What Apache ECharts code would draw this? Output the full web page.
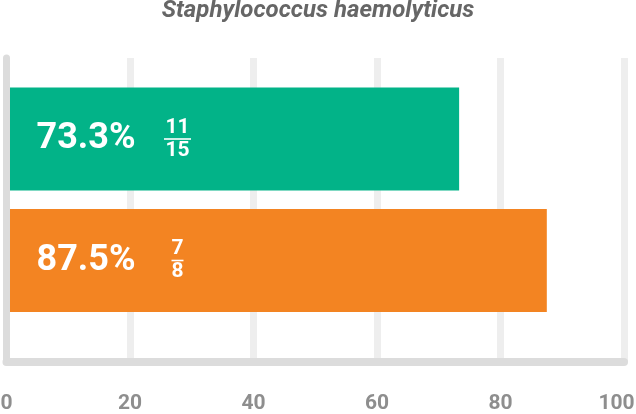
<!DOCTYPE html>
<html>
<head>
<meta charset="utf-8">
<script src="https://cdn.jsdelivr.net/npm/echarts@6/dist/echarts.min.js"></script>
<style>
  html, body { margin: 0; padding: 0; background: #fff; }
  #chart { width: 636px; height: 414px; }
</style>
</head>
<body>
<div id="chart"></div>
<script>
// data
const title = 'Staphylococcus haemolyticus';
const categories = ['a', 'b'];
const percents = [73.3, 87.5];
const numerators = [11, 7];
const denominators = [15, 8];
const barColors = ['#02b388', '#f38422'];
const xTicks = [0, 20, 40, 60, 80, 100];

const chart = echarts.init(document.getElementById('chart'));
const FONT = 'Roboto';

const option = {
  animation: false,
  title: {
    text: title,
    left: 'center',
    top: -1,
    padding: 0,
    textStyle: { fontFamily: FONT, fontSize: 24, fontWeight: 'bold', fontStyle: 'italic', color: '#666666' }
  },
  grid: [
    // frame grid: split lines, axes, tick labels
    { left: 6.5, right: 12, top: 58, bottom: 52, outerBoundsMode: 'none' },
    // bar grid
    { left: 6.5, right: 12, top: 78.25, bottom: 92.75, outerBoundsMode: 'none' }
  ],
  xAxis: [
    {
      gridIndex: 0, type: 'value', min: xTicks[0], max: xTicks[xTicks.length - 1], interval: 20,
      axisLine: { show: true, lineStyle: { color: '#dcdcdc', width: 8 } },
      axisTick: { show: false },
      splitLine: { show: true, lineStyle: { color: '#eeeeee', width: 7 } },
      axisLabel: {
        margin: 31,
        formatter: v => v === 100 ? '{a|' + v + '}{sp| }' : '{a|' + v + '}',
        rich: {
          a: { fontFamily: FONT, fontSize: 21, fontWeight: 'bold', color: '#8e8e8e' },
          sp: { width: 15 }
        }
      }
    },
    {
      gridIndex: 1, type: 'value', min: 0, max: 100, show: false
    }
  ],
  yAxis: [
    {
      gridIndex: 0, type: 'category', data: [''], z: 5,
      axisLine: { show: true, lineStyle: { color: '#dcdcdc', width: 7 } },
      axisTick: { show: false }, axisLabel: { show: false }, splitLine: { show: false }
    },
    {
      gridIndex: 1, type: 'category', data: categories, inverse: true, show: false
    }
  ],
  series: [
    {
      type: 'bar', xAxisIndex: 1, yAxisIndex: 1,
      barWidth: 103,
      data: percents.map((v, i) => ({ value: v, itemStyle: { color: barColors[i] } })),
      label: {
        show: true, position: 'insideLeft', distance: 30,
        formatter: p => p.value.toFixed(1) + '%',
        fontFamily: FONT, fontSize: 36, fontWeight: 'bold', color: '#ffffff'
      }
    },
    {
      // transparent overlay carrying the fraction labels
      type: 'bar', xAxisIndex: 1, yAxisIndex: 1,
      barWidth: 103, barGap: '-100%', silent: true,
      itemStyle: { color: 'rgba(0,0,0,0)' },
      data: percents,
      label: {
        show: true, position: [171, '50%'], align: 'center', verticalAlign: 'middle',
        formatter: p => {
          const n = String(numerators[p.dataIndex]);
          const d = String(denominators[p.dataIndex]);
          const w = Math.max(n.length, d.length);
          return '{n|' + n + '}\n{l' + w + '|}\n{n|' + d + '}';
        },
        rich: {
          n: { fontFamily: FONT, fontSize: 21, fontWeight: 'bold', color: '#ffffff', lineHeight: 18, align: 'center' },
          l1: { width: 12, height: 1.6, lineHeight: 5, backgroundColor: '#ffffff', align: 'center' },
          l2: { width: 27, height: 1.6, lineHeight: 5, backgroundColor: '#ffffff', align: 'center' }
        }
      }
    }
  ]
};

chart.setOption(option);
window.addEventListener('resize', () => chart.resize());
</script>
</body>
</html>
